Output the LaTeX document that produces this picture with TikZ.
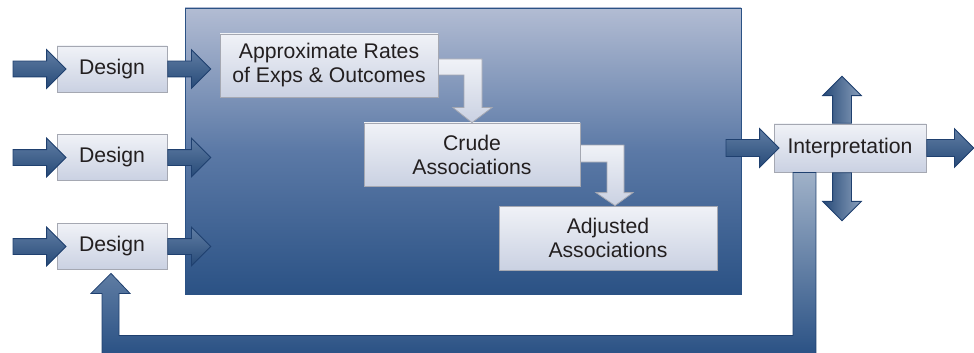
\documentclass[tikz,border=0pt]{standalone}
\usepackage{fontspec}
\setmainfont{Liberation Sans}
\usetikzlibrary{shapes.arrows,calc}

\definecolor{blaufosc}{HTML}{2B5285}
\definecolor{blauclar}{HTML}{B2BCD3}
\definecolor{blaumig}{HTML}{5B79A6}
\definecolor{vora}{HTML}{1F406F}
\definecolor{caixafons}{HTML}{CAD1E2}
\definecolor{caixaclar}{HTML}{F0F2F7}
\definecolor{voracaixa}{HTML}{A5A8B2}
\definecolor{lletra}{HTML}{231F20}

\tikzset{
	gran/.style={draw=blaufosc, top color=blauclar, bottom color=blaufosc, middle color=blaumig,
		minimum width=278pt, minimum height=143pt, inner sep=0pt},
	caixa/.style={draw=voracaixa, top color=caixaclar, bottom color=caixafons, text=lletra,
		align=center, inner sep=0pt, font=\fontsize{10.6}{12}\selectfont},
	clara/.style={draw=voracaixa, top color=caixaclar, bottom color=caixafons},
	fletxa/.style={single arrow, draw=vora, top color=blaufosc!75!white, bottom color=blaufosc!90!black,
		inner sep=3.75pt, minimum width=19pt, single arrow head extend=5.75pt},
	fletxav/.style={single arrow, draw=vora, left color=blaufosc!90!black, right color=blaufosc!55!white,
		inner sep=4.5pt, minimum width=19pt, single arrow head extend=5pt},
	retorn/.style={draw=vora, top color=blaufosc!45!white, middle color=blaufosc!85!white, bottom color=blaufosc},
}

\begin{document}
\begin{tikzpicture}[x=0.5pt,y=-0.5pt]
	\useasboundingbox (0,0) rectangle (974,353);
	
	% bloc central
	\node[gran] (gran) at (463,151) {};
	
	% caixes de disseny
	\foreach \i/\y in {1/69,2/157.5,3/246.5}
	\node[caixa, minimum width=55pt, minimum height=23pt] (d\i) at (112,\y) {Design};
	
	\node[caixa, minimum width=109pt, minimum height=31.5pt] (aprox) at (329,65.5) {Approximate Rates\\of Exps \& Outcomes};
	\node[caixa, minimum width=108pt, minimum height=31.5pt] (crude) at (472,154.5) {Crude\\Associations};
	\node[caixa, minimum width=109pt, minimum height=32pt] (ajust) at (608,238) {Adjusted\\Associations};
	\node[caixa, minimum width=76pt, minimum height=24pt] (interp) at (850,148) {Interpretation};
	
	% fletxes d'entrada i sortida
	\foreach \i in {1,2,3} {
		\node[fletxa, minimum height=26.5pt, anchor=tip] (in\i) at ($(d\i.west)+(10,0)$) {};
		\node[fletxa, minimum height=21.5pt, anchor=tail] (out\i) at (d\i.east) {};
	}
	
	% fletxes clares dins el bloc
	\draw[clara] ($(aprox.east)+(0,-6.5)$) -- ($(crude.north |- aprox.east)+(10,-6.5)$)
		-- ($(crude.north)+(10,-15)$) -- ($(crude.north)+(20,-15)$) -- (crude.north)
		-- ($(crude.north)+(-19,-15)$) -- ($(crude.north)+(-8,-15)$)
		-- ($(crude.north |- aprox.east)+(-8,9.5)$) -- ($(aprox.east)+(0,9.5)$) -- cycle;
	\coordinate (p2) at ($(ajust.north)+(7,0)$);
	\draw[clara] ($(crude.east)+(0,-9.5)$) -- ($(p2 |- crude.east)+(9,-9.5)$)
		-- ($(p2)+(9,-13)$) -- ($(p2)+(18,-13)$) -- (p2)
		-- ($(p2)+(-19,-13)$) -- ($(p2)+(-8,-13)$)
		-- ($(p2 |- crude.east)+(-8,7.5)$) -- ($(crude.east)+(0,7.5)$) -- cycle;
	
	% retorn cap a disseny
	\draw[retorn] ($(interp.south)+(-57,0)$) -- ($(interp.south)+(-34,0)$)
		-- ($(interp.south)+(-34,181)$) -- ($(d3.south)+(-10,83.5)$)
		-- ($(d3.south)+(-10,23.5)$) -- ($(d3.south)+(-21,23.5)$) -- ($(d3.south)+(-1,3.5)$)
		-- ($(d3.south)+(18,23.5)$) -- ($(d3.south)+(7,23.5)$)
		-- ($(d3.south)+(7,65.5)$) -- ($(interp.south)+(-57,163)$) -- cycle;
	
	% fletxes de la interpretacio
	\node[fletxa, minimum height=26.5pt, inner sep=4pt, single arrow head extend=5.5pt, anchor=tip] (ein) at ($(interp.west)+(6,0)$) {};
	\node[fletxa, minimum height=23.5pt, inner sep=4pt, single arrow head extend=5.5pt, anchor=tail] (eout) at (interp.east) {};
	\node[fletxav, minimum height=23.5pt, shape border rotate=90, anchor=tail] (amunt) at ($(interp.north)+(-8,0)$) {};
	\node[fletxav, minimum height=24pt, shape border rotate=270, anchor=tail] (avall) at ($(interp.south)+(-8,0)$) {};
\end{tikzpicture}
\end{document}
